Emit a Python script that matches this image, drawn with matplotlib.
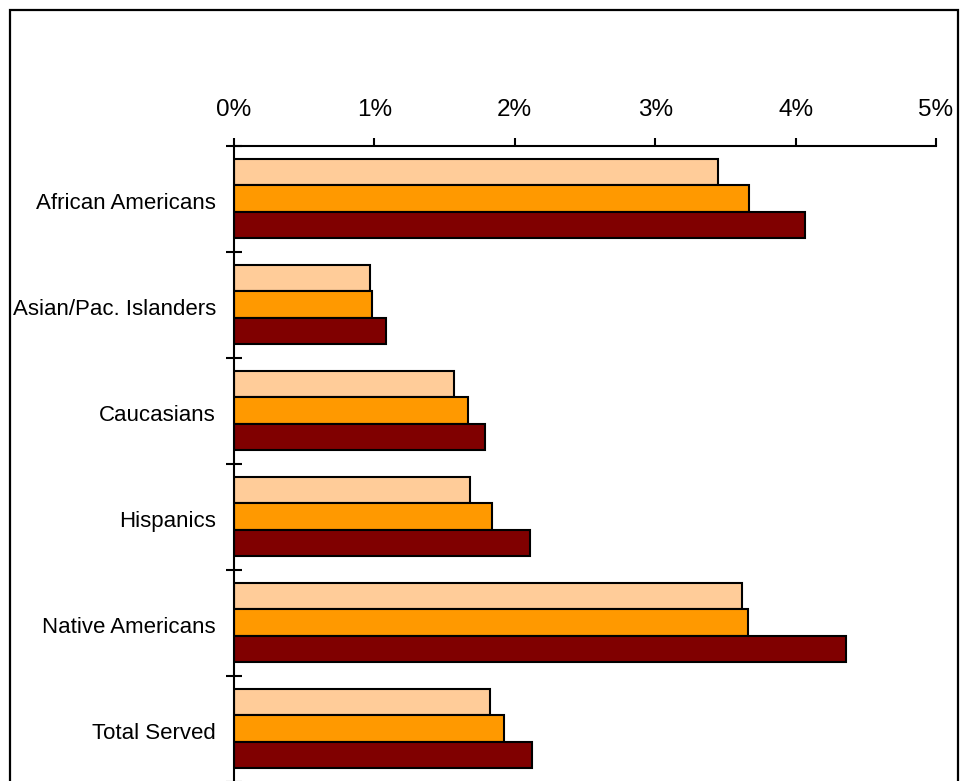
import matplotlib
matplotlib.use("Agg")
import matplotlib.pyplot as plt
from matplotlib.patches import Rectangle
from matplotlib.ticker import FixedLocator, FuncFormatter
import numpy as np

plt.rcParams['font.family'] = ['Liberation Sans', 'DejaVu Sans']

categories = ["African Americans", "Asian/Pac. Islanders", "Caucasians",
              "Hispanics", "Native Americans", "Total Served"]
# Rates in percent, three series per group (top to bottom within a group)
rate_first = [3.45, 0.97, 1.57, 1.68, 3.62, 1.82]
rate_second = [3.67, 0.98, 1.67, 1.84, 3.66, 1.92]
rate_third = [4.07, 1.08, 1.79, 2.11, 4.36, 2.12]
x_ticks = [0, 1, 2, 3, 4, 5]

series = [(rate_first, "#FFCC99"), (rate_second, "#FF9900"), (rate_third, "#800000")]

fig = plt.figure(figsize=(9.64, 7.81), dpi=100)
W, H = 964, 781

# Outer chart border
fig.patches.append(Rectangle((10 / W, -0.05), (958 - 10) / W, 1.05 - 10 / H,
                             transform=fig.transFigure, fill=False,
                             edgecolor="black", linewidth=1.6, zorder=0))

left, right = 234 / W, 936 / W
top, bottom = 1 - 145.7 / H, 1 - 781.7 / H
ax = fig.add_axes([left, bottom, right - left, top - bottom])

n = len(categories)
bar_h = 0.25
pos = np.arange(n)
for i, (vals, color) in enumerate(series):
    y = pos - bar_h + i * bar_h
    ax.barh(y, vals, height=bar_h, color=color, edgecolor="black", linewidth=1.5)

ax.set_xlim(0, 5)
ax.set_ylim(n - 0.5, -0.5)

ax.xaxis.set_ticks_position("top")
ax.xaxis.set_major_locator(FixedLocator(x_ticks))
ax.xaxis.set_major_formatter(FuncFormatter(lambda v, p: f"{v:.0f}%"))
ax.tick_params(axis="x", which="major", direction="out", length=6, width=1.5,
               pad=12, labelsize=17.5, colors="black")

ax.set_yticks(pos + 0.02)
ax.set_yticklabels(categories)
ax.tick_params(axis="y", which="major", length=0, pad=13, labelsize=16)
ax.set_yticks(np.arange(n + 1) - 0.5, minor=True)
ax.tick_params(axis="y", which="minor", direction="inout", length=11.5, width=1.5)

for s in ["right", "bottom"]:
    ax.spines[s].set_visible(False)
for s in ["top", "left"]:
    ax.spines[s].set_linewidth(1.5)

fig.savefig("out.png", dpi=100)
